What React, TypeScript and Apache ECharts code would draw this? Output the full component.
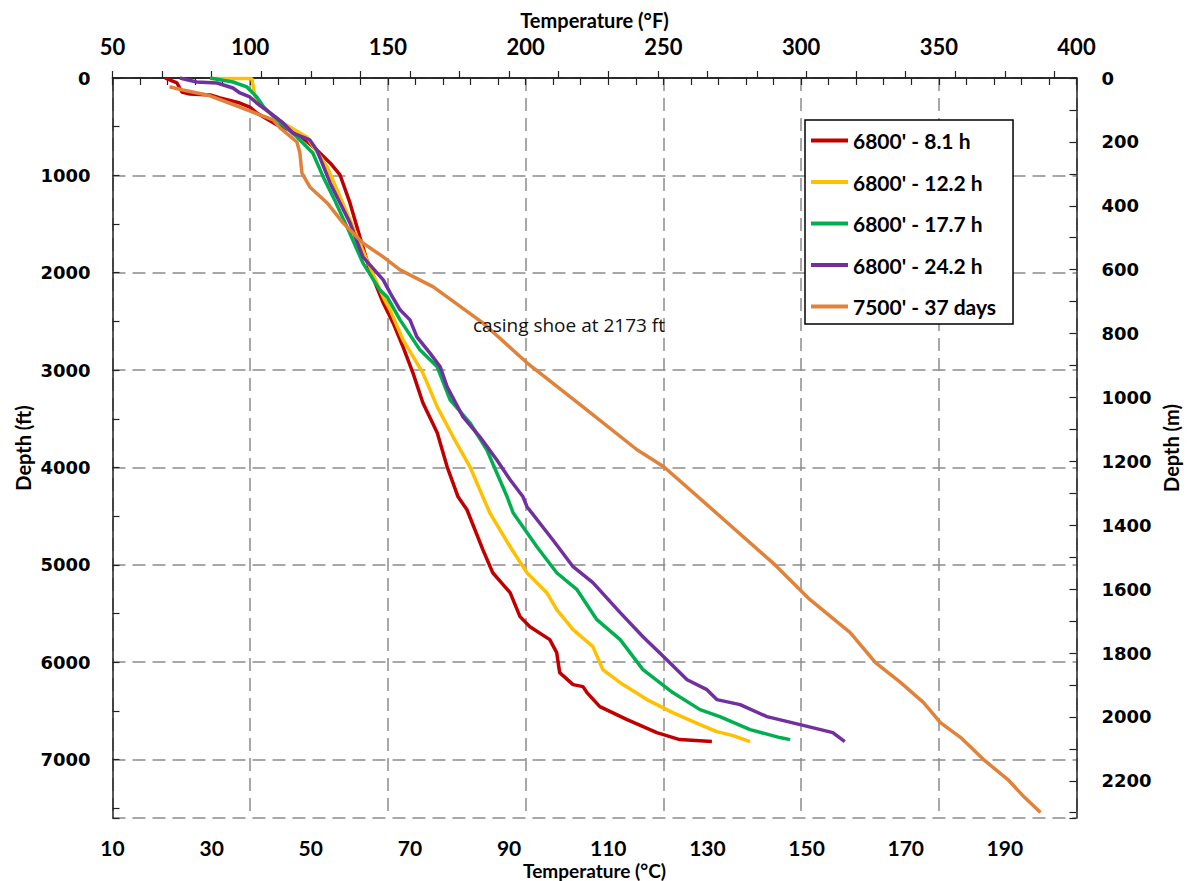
import React, { useEffect, useRef } from "react";
import * as echarts from "echarts";

// ---- data: [temperature °C, depth ft] ----
const seriesNames = ["6800' - 8.1 h", "6800' - 12.2 h", "6800' - 17.7 h", "6800' - 24.2 h", "7500' - 37 days"];
const seriesColors = ["#C00000", "#FFC000", "#00B050", "#7030A0", "#E0823A"];

const log81h: number[][] = [
  [20.6, 0], [23.0, 51], [24.0, 144], [25.6, 164], [29.7, 174], [31.7, 205], [35.7, 257], [37.7, 298],
  [39.1, 359], [43.2, 482], [47.2, 565], [51.2, 739], [53.9, 872], [55.9, 996], [57.9, 1283], [59.9, 1632],
  [61.9, 1971], [64.6, 2309], [66.6, 2515], [68.6, 2761], [70.6, 3028], [72.6, 3336], [75.5, 3644], [77.5, 3993],
  [79.7, 4301], [81.5, 4434], [84.7, 4844], [86.7, 5081], [90.2, 5286], [92.2, 5532], [94.2, 5635], [98.2, 5768],
  [99.6, 5902], [100.2, 6107], [102.9, 6230], [104.9, 6251], [105.7, 6312], [108.3, 6456], [113.8, 6590],
  [119.8, 6723], [124.4, 6795], [130.9, 6815],
];
const log122h: number[][] = [
  [29.7, 5], [38.1, 5], [38.6, 150], [39.1, 257], [44.4, 462], [49.2, 606], [53.3, 914], [55.3, 1150],
  [57.9, 1458], [61.3, 1868], [64.6, 2248], [66.0, 2381], [68.6, 2689], [72.6, 3028], [75.5, 3377], [78.7, 3685],
  [82.1, 3993], [84.7, 4301], [86.1, 4465], [90.2, 4814], [93.6, 5081], [97.6, 5286], [99.6, 5460], [102.9, 5666],
  [106.9, 5840], [108.9, 6076], [112.4, 6210], [117.8, 6384], [123.0, 6518], [128.5, 6640], [131.9, 6713],
  [135.2, 6754], [138.6, 6815],
];
const log177h: number[][] = [
  [29.7, 0], [34.3, 41], [37.1, 92], [39.1, 195], [40.5, 298], [43.2, 431], [47.2, 606], [50.4, 770],
  [52.5, 1016], [54.5, 1221], [57.3, 1529], [60.5, 1899], [63.9, 2176], [65.4, 2248], [68.0, 2484], [72.0, 2792],
  [75.5, 2966], [78.1, 3305], [82.1, 3541], [85.5, 3818], [87.5, 4054], [89.6, 4301], [90.8, 4465], [95.6, 4814],
  [99.6, 5081], [103.7, 5255], [107.7, 5563], [112.4, 5768], [117.0, 6076], [123.0, 6312], [128.5, 6487],
  [132.5, 6559], [138.6, 6692], [144.6, 6774], [146.7, 6795],
];
const log242h: number[][] = [
  [23.6, 0], [27.0, 41], [31.1, 51], [34.3, 103], [35.7, 154], [37.7, 195], [39.1, 257], [41.8, 359],
  [44.4, 462], [46.4, 565], [49.8, 636], [51.2, 739], [53.9, 1078], [55.9, 1283], [57.9, 1488], [60.5, 1837],
  [64.6, 2073], [66.0, 2207], [68.0, 2381], [70.0, 2484], [71.4, 2658], [74.0, 2823], [76.1, 2966], [77.5, 3172],
  [80.7, 3480], [84.1, 3685], [87.5, 3921], [90.2, 4126], [92.8, 4301], [93.6, 4403], [98.8, 4742], [102.9, 5019],
  [106.9, 5183], [112.4, 5491], [117.0, 5738], [121.8, 5974], [125.9, 6180], [129.9, 6282], [131.9, 6384],
  [136.6, 6436], [142.0, 6559], [148.7, 6641], [155.3, 6723], [157.7, 6815],
];
const log37d: number[][] = [
  [21.5, 90], [24.2, 123], [29.1, 174], [35.7, 298], [42.4, 431], [43.8, 513], [47.2, 657], [47.8, 770],
  [48.2, 975], [49.8, 1119], [53.3, 1283], [56.5, 1488], [60.5, 1694], [64.6, 1837], [68.0, 1971], [74.7, 2145],
  [84.7, 2515], [93.6, 2925], [104.9, 3377], [115.8, 3818], [121.2, 3993], [132.2, 4485], [143.6, 4998],
  [150.7, 5358], [158.8, 5697], [163.9, 6005], [169.0, 6210], [173.6, 6415], [177.0, 6620], [181.1, 6774],
  [185.7, 7000], [190.6, 7205], [193.8, 7380], [197.2, 7544],
];
const seriesData = [log81h, log122h, log177h, log242h, log37d];

const annotationText = "casing shoe at 2173 ft";

// axis ranges
const tempMinF = 50;
const tempMaxF = 400;
const tempMinC = 10;
const tempMaxC = (tempMaxF - 32) / 1.8;
const depthMaxFt = 7600;
const depthMaxM = depthMaxFt * 0.3048;

const tbFont = { fontFamily: "Lato, sans-serif", fontWeight: "bold" as const, fontSize: 22, color: "#000" };
const lrFont = { fontFamily: "'DejaVu Sans', sans-serif", fontWeight: "bold" as const, fontSize: 18, color: "#000" };
const nameFont = { fontFamily: "Lato, sans-serif", fontWeight: "bold" as const, fontSize: 20, color: "#000" };

const axisLine = { show: true, lineStyle: { color: "#222", width: 1.5 } };
const tick = { show: true, inside: true, length: 7, lineStyle: { color: "#222", width: 1.2 } };
const gridLine = { show: true, lineStyle: { color: "#8c8c8c", type: [13, 7] as number[], width: 1.5 } };
const noLine = { show: false };

export default function App() {
  const ref = useRef<HTMLDivElement>(null);
  useEffect(() => {
    if (!ref.current) return;
    const chart = echarts.init(ref.current, undefined, { renderer: "svg" });
    const isMult = (v: number, m: number) => Math.abs(v / m - Math.round(v / m)) < 1e-6;
    chart.setOption({
      animation: false,
      backgroundColor: "#fff",
      grid: { left: 112.5, right: 110.5, top: 78, bottom: 63, containLabel: false, outerBoundsMode: "none" },
      xAxis: [
        {
          type: "value", position: "top", min: tempMinF, max: tempMaxF, interval: 10,
          axisLine, axisTick: tick, splitLine: noLine,
          axisLabel: { ...tbFont, margin: 21, formatter: (v: number) => (isMult(v, 50) ? String(v) : "") },
          name: "Temperature (°F)", nameLocation: "middle", nameGap: 48, nameTextStyle: nameFont,
          nameMoveOverlap: false,
        },
        {
          type: "value", position: "bottom", min: tempMinC, max: tempMaxC, interval: 10,
          axisLine, axisTick: tick, splitLine: noLine,
          axisLabel: {
            ...tbFont, fontSize: 21, margin: 19, showMaxLabel: false,
            formatter: (v: number) => (isMult(v, 10) && isMult(v - 10, 20) ? String(Math.round(v)) : ""),
          },
          name: "Temperature (°C)", nameLocation: "middle", nameGap: 43,
          nameTextStyle: { ...nameFont, fontSize: 19 },
          nameMoveOverlap: false,
        },
        {
          type: "value", position: "top", min: tempMinF, max: tempMaxF, interval: 50,
          axisLine: noLine, axisTick: noLine, axisLabel: noLine, splitLine: gridLine,
        },
      ],
      yAxis: [
        {
          type: "value", position: "left", inverse: true, min: 0, max: depthMaxFt, interval: 500,
          axisLine, axisTick: tick, splitLine: noLine,
          axisLabel: { ...lrFont, margin: 22, formatter: (v: number) => (isMult(v, 1000) ? String(v) : "") },
          name: "Depth (ft)", nameLocation: "middle", nameRotate: 90, nameGap: 80, nameTextStyle: nameFont,
          nameMoveOverlap: false,
        },
        {
          type: "value", position: "right", inverse: true, min: 0, max: depthMaxM, interval: 100,
          axisLine, axisTick: tick, splitLine: noLine,
          axisLabel: { ...lrFont, margin: 25, formatter: (v: number) => (isMult(v, 200) ? String(v) : "") },
          name: "Depth (m)", nameLocation: "middle", nameRotate: 90, nameGap: 84, nameTextStyle: nameFont,
          nameMoveOverlap: false,
        },
        {
          type: "value", position: "left", inverse: true, min: 0, max: depthMaxFt, interval: 1000,
          axisLine: noLine, axisTick: noLine, axisLabel: noLine, splitLine: gridLine,
        },
      ],
      legend: {
        orient: "vertical", left: 805, top: 120,
        data: seriesNames,
        icon: "rect", itemWidth: 37, itemHeight: 4, itemGap: 20.5,
        padding: [10, 17, 7, 6],
        borderColor: "#000", borderWidth: 1.5, backgroundColor: "#fff",
        textStyle: { fontFamily: "Lato, sans-serif", fontWeight: "bold", fontSize: 21, color: "#000" },
      },
      graphic: [
        {
          type: "text", left: 473, top: 315, z: 10,
          style: { text: annotationText, font: "19px 'Open Sans', sans-serif", fill: "#111" },
        },
      ],
      series: seriesData.map((d, i) => ({
        name: seriesNames[i], type: "line", xAxisIndex: 1, yAxisIndex: 0,
        data: d, showSymbol: false, symbol: "none", color: seriesColors[i],
        lineStyle: { width: 3.5, color: seriesColors[i] }, z: 2 + i,
      })),
    });
    return () => chart.dispose();
  }, []);
  return <div ref={ref} style={{ position: "fixed", left: 0, top: 0, width: 1187, height: 881 }} />;
}
